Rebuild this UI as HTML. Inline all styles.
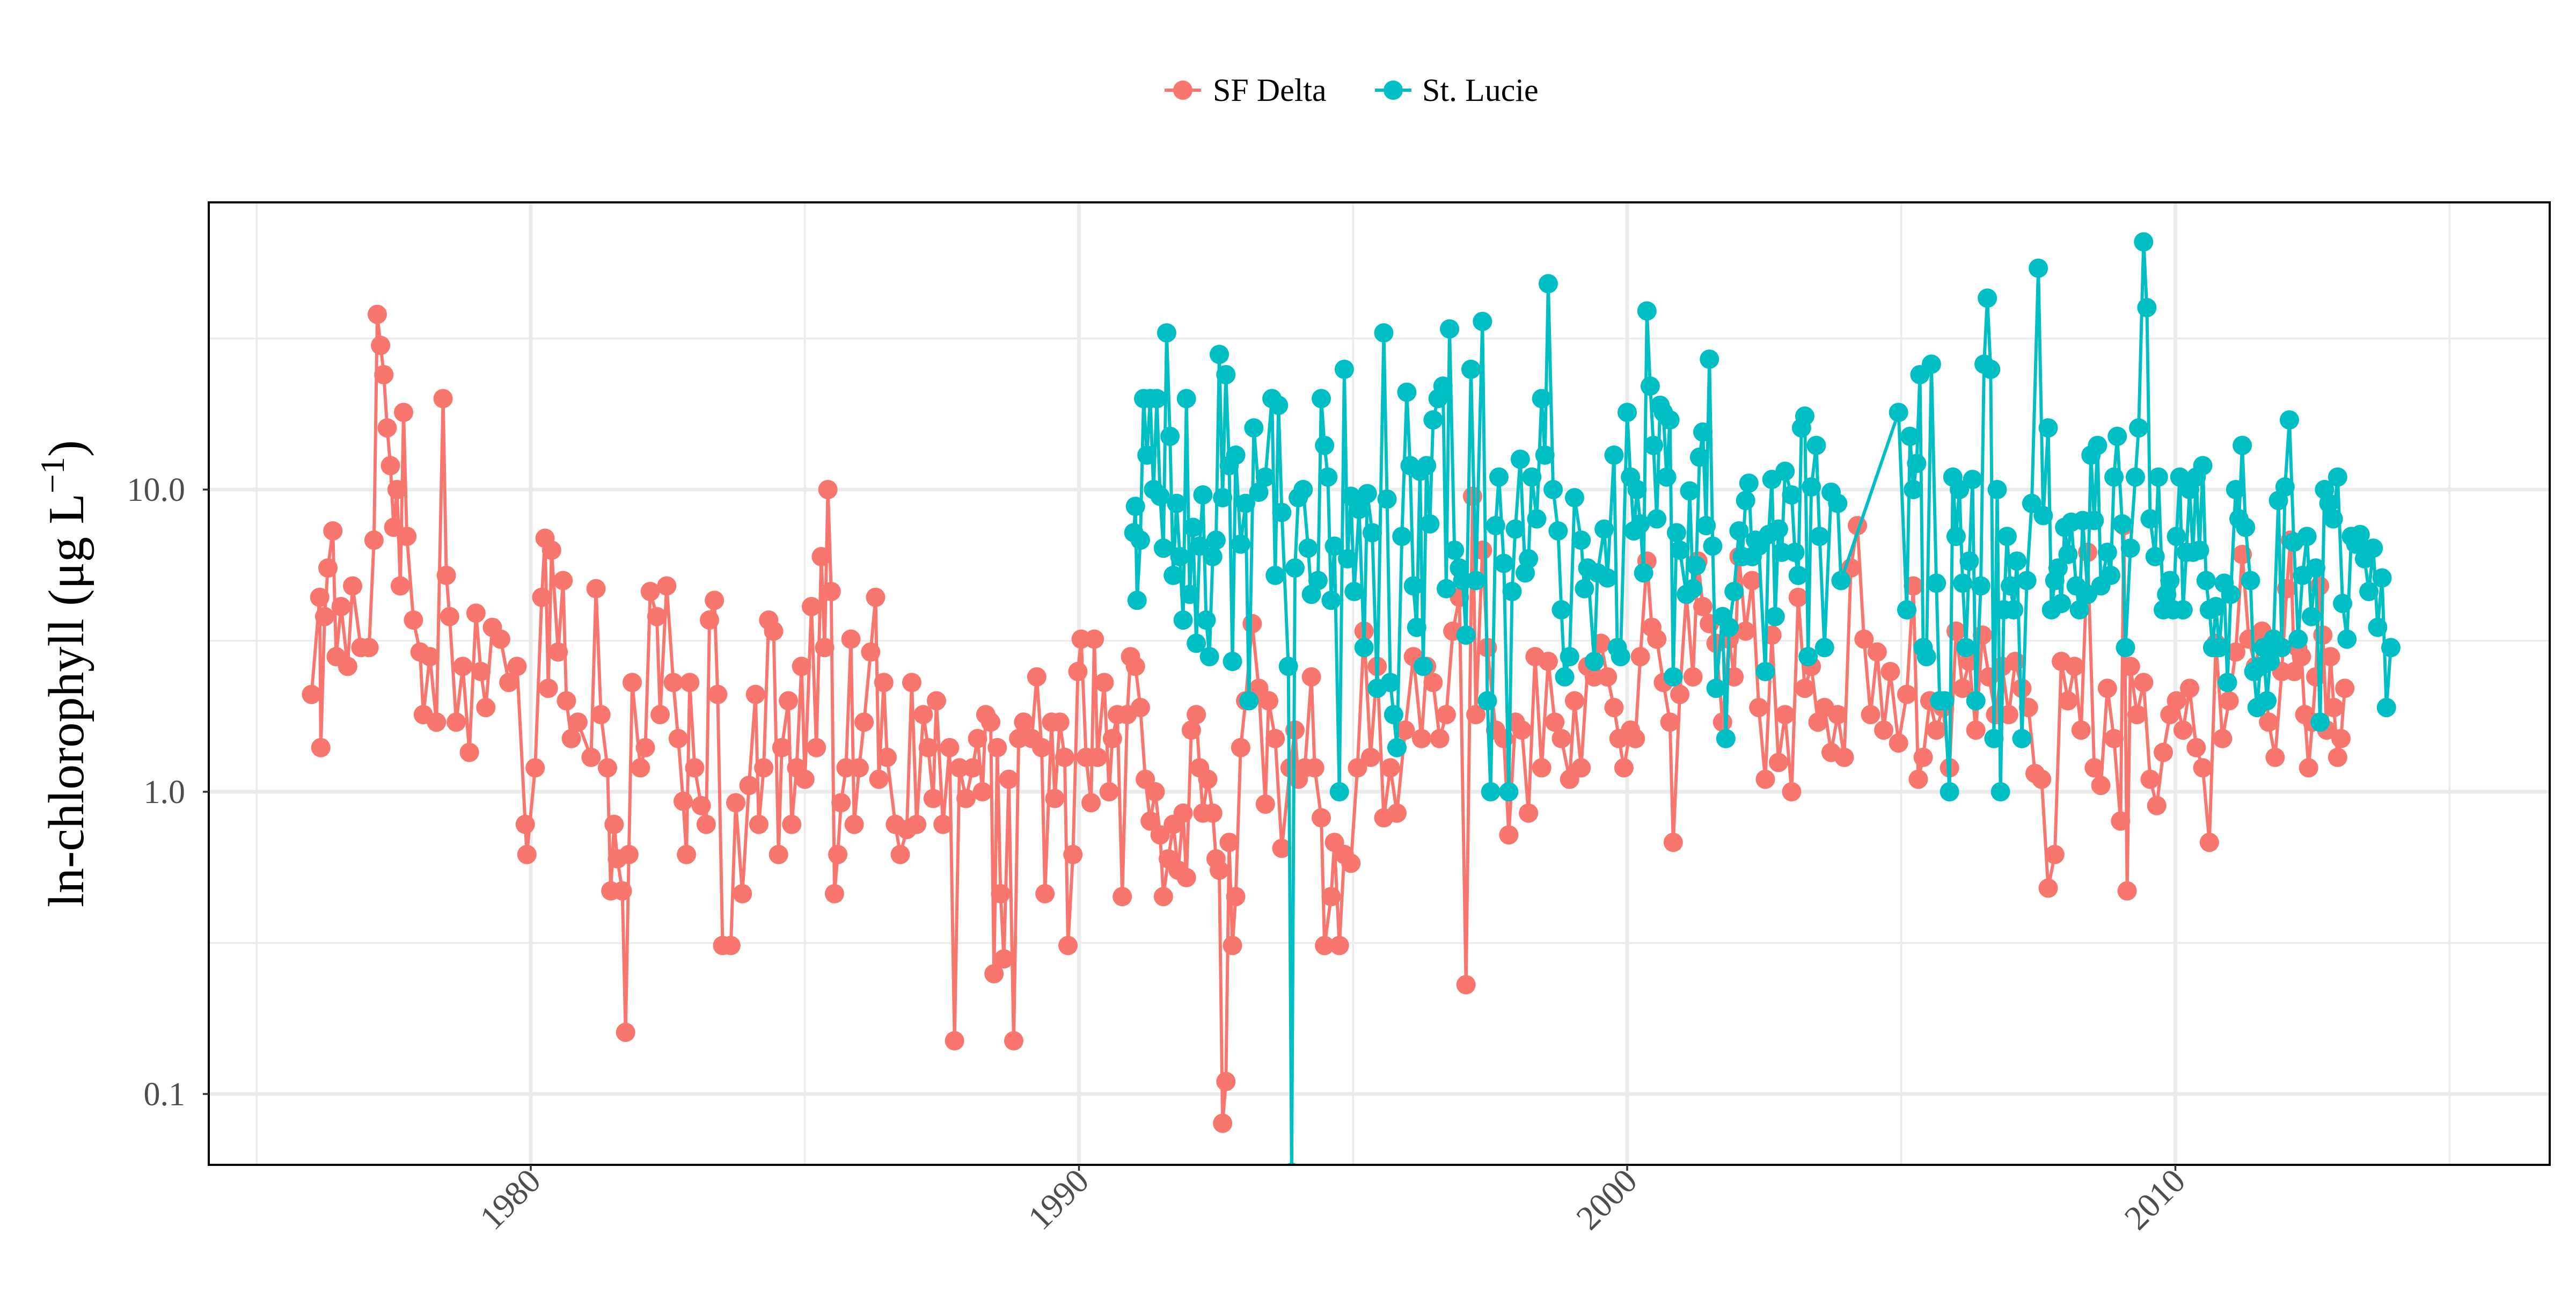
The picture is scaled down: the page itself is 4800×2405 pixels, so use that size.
<!DOCTYPE html>
<html><head><meta charset="utf-8"><style>
html,body{margin:0;padding:0;background:#fff}
svg text{font-family:"Liberation Serif",serif}
</style></head><body>
<svg id="chart" width="4800" height="2400" viewBox="0 0 4800 2400" xmlns="http://www.w3.org/2000/svg">
<rect width="4800" height="2400" fill="#fff"/>
<g id="grid"></g>
<g id="series"></g>
<rect x="389" y="377" width="4362" height="1793" fill="none" stroke="#000" stroke-width="4"/>
<g id="axes"></g>
<text transform="translate(155,1255) rotate(-90)" text-anchor="middle" font-size="94" fill="#000">ln-chlorophyll (μg L<tspan dy="-36" font-size="64">−1</tspan><tspan dy="36">)</tspan></text>
<g>
  <g>
    <line x1="2170" y1="168" x2="2238" y2="168" stroke="#F8766D" stroke-width="6"/>
    <circle cx="2204" cy="168" r="18" fill="#F8766D"/>
    <text x="2260" y="188" font-size="60" fill="#000">SF Delta</text>
  </g>
  <g>
    <line x1="2562" y1="168" x2="2630" y2="168" stroke="#00BFC4" stroke-width="6"/>
    <circle cx="2596" cy="168" r="18" fill="#00BFC4"/>
    <text x="2650" y="188" font-size="60" fill="#000">St. Lucie</text>
  </g>
</g>
</svg>
<script>
const yTicks=[0.1,1,10];
const yTickLabels=["0.1","1.0","10.0"];
const yMinor=[0.0316,0.316,3.16,31.6];
const xTicks=[1980,1990,2000,2010];
const xMinor=[1975,1985,1995,2005,2015];
const sfYears=[1976.00,1976.15,1976.17,1976.24,1976.30,1976.39,1976.45,1976.54,1976.66,1976.75,1976.90,1977.05,1977.14,1977.20,1977.26,1977.32,1977.38,1977.44,1977.50,1977.56,1977.62,1977.68,1977.74,1977.86,1977.98,1978.04,1978.16,1978.28,1978.40,1978.46,1978.52,1978.64,1978.76,1978.88,1979.00,1979.09,1979.18,1979.30,1979.45,1979.60,1979.75,1979.90,1979.93,1980.08,1980.20,1980.26,1980.32,1980.38,1980.50,1980.59,1980.65,1980.74,1980.86,1981.10,1981.19,1981.28,1981.40,1981.46,1981.52,1981.58,1981.67,1981.73,1981.79,1981.85,1982.00,1982.09,1982.18,1982.30,1982.36,1982.48,1982.60,1982.69,1982.78,1982.84,1982.90,1982.99,1983.11,1983.20,1983.26,1983.35,1983.41,1983.50,1983.65,1983.74,1983.86,1983.98,1984.10,1984.16,1984.25,1984.34,1984.43,1984.52,1984.58,1984.70,1984.76,1984.85,1984.94,1985.00,1985.12,1985.21,1985.30,1985.36,1985.42,1985.48,1985.54,1985.60,1985.66,1985.75,1985.84,1985.90,1985.99,1986.08,1986.20,1986.29,1986.35,1986.44,1986.50,1986.65,1986.74,1986.86,1986.95,1987.04,1987.16,1987.25,1987.34,1987.40,1987.52,1987.64,1987.73,1987.82,1987.94,1988.06,1988.15,1988.24,1988.30,1988.39,1988.45,1988.51,1988.57,1988.63,1988.72,1988.81,1988.90,1988.99,1989.14,1989.23,1989.32,1989.38,1989.50,1989.56,1989.65,1989.74,1989.80,1989.89,1989.98,1990.04,1990.13,1990.22,1990.28,1990.34,1990.46,1990.55,1990.61,1990.70,1990.79,1990.88,1990.94,1991.03,1991.12,1991.21,1991.30,1991.39,1991.48,1991.54,1991.63,1991.72,1991.81,1991.90,1991.96,1992.05,1992.14,1992.20,1992.26,1992.35,1992.44,1992.50,1992.56,1992.62,1992.68,1992.74,1992.80,1992.86,1992.95,1993.04,1993.16,1993.28,1993.40,1993.46,1993.58,1993.70,1993.85,1993.94,1994.00,1994.12,1994.24,1994.30,1994.42,1994.48,1994.60,1994.66,1994.75,1994.84,1994.96,1995.08,1995.20,1995.32,1995.44,1995.56,1995.68,1995.80,1995.95,1996.10,1996.25,1996.34,1996.46,1996.58,1996.70,1996.82,1996.94,1997.06,1997.18,1997.24,1997.36,1997.45,1997.60,1997.75,1997.84,1997.96,1998.08,1998.20,1998.32,1998.44,1998.56,1998.68,1998.80,1998.95,1999.04,1999.16,1999.28,1999.40,1999.52,1999.64,1999.76,1999.85,1999.94,2000.06,2000.15,2000.24,2000.36,2000.45,2000.54,2000.66,2000.78,2000.84,2000.96,2001.08,2001.20,2001.29,2001.38,2001.50,2001.62,2001.74,2001.86,2001.95,2002.04,2002.16,2002.28,2002.40,2002.52,2002.64,2002.76,2002.88,2003.00,2003.12,2003.24,2003.36,2003.48,2003.60,2003.72,2003.84,2003.96,2004.08,2004.20,2004.32,2004.44,2004.56,2004.68,2004.80,2004.95,2005.10,2005.22,2005.31,2005.40,2005.52,2005.64,2005.76,2005.88,2006.00,2006.12,2006.24,2006.36,2006.48,2006.60,2006.72,2006.84,2006.96,2007.08,2007.20,2007.32,2007.44,2007.56,2007.68,2007.80,2007.92,2008.04,2008.16,2008.28,2008.40,2008.52,2008.64,2008.76,2008.88,2009.00,2009.06,2009.12,2009.18,2009.30,2009.42,2009.54,2009.66,2009.78,2009.90,2010.02,2010.14,2010.26,2010.38,2010.50,2010.62,2010.74,2010.86,2010.98,2011.10,2011.22,2011.34,2011.46,2011.58,2011.70,2011.82,2011.94,2012.03,2012.10,2012.17,2012.23,2012.30,2012.36,2012.43,2012.50,2012.56,2012.63,2012.69,2012.76,2012.83,2012.89,2012.96,2013.02,2013.09];
const sfValues=[2.1,4.4,1.4,3.8,5.5,7.3,2.8,4.1,2.6,4.8,3.0,3.0,6.8,38,30,24,16,12,7.5,10,4.8,18,7,3.7,2.9,1.8,2.8,1.7,20,5.2,3.8,1.7,2.6,1.35,3.9,2.5,1.9,3.5,3.2,2.3,2.6,0.78,0.62,1.2,4.4,6.9,2.2,6.3,2.9,5.0,2.0,1.5,1.7,1.3,4.7,1.8,1.2,0.47,0.78,0.6,0.47,0.16,0.62,2.3,1.2,1.4,4.6,3.8,1.8,4.8,2.3,1.5,0.93,0.62,2.3,1.2,0.9,0.78,3.7,4.3,2.1,0.31,0.31,0.92,0.46,1.05,2.1,0.78,1.2,3.7,3.4,0.62,1.4,2.0,0.78,1.2,2.6,1.1,4.1,1.4,6.0,3.0,10,4.6,0.46,0.62,0.92,1.2,3.2,0.78,1.2,1.7,2.9,4.4,1.1,2.3,1.3,0.78,0.62,0.75,2.3,0.78,1.8,1.4,0.95,2.0,0.78,1.4,0.15,1.2,0.95,1.2,1.5,1.0,1.8,1.7,0.25,1.4,0.46,0.28,1.1,0.15,1.5,1.7,1.5,2.4,1.4,0.46,1.7,0.95,1.7,1.3,0.31,0.62,2.5,3.2,1.3,0.92,3.2,1.3,2.3,1.0,1.5,1.8,0.45,1.8,2.8,2.6,1.9,1.1,0.8,1.0,0.72,0.45,0.6,0.78,0.55,0.85,0.52,1.6,1.8,1.2,0.85,1.1,0.85,0.6,0.55,0.08,0.11,0.68,0.31,0.45,1.4,2.0,3.6,2.2,0.91,2.0,1.5,0.65,1.2,1.6,1.1,1.2,2.4,1.2,0.82,0.31,0.45,0.68,0.31,0.62,0.58,1.2,3.4,1.3,2.6,0.82,1.2,0.85,1.6,2.8,1.5,2.6,2.3,1.5,1.8,3.4,4.4,0.23,9.5,1.8,6.3,3.0,1.6,1.5,0.72,1.7,1.6,0.85,2.8,1.2,2.7,1.7,1.5,1.1,2.0,1.2,2.6,2.4,3.1,2.4,1.9,1.5,1.2,1.6,1.5,2.8,5.8,3.5,3.2,2.3,1.7,0.68,2.1,4.5,2.4,5.8,4.1,3.6,3.1,1.7,3.2,2.4,6.0,3.4,5.0,1.9,1.1,3.3,1.25,1.8,1.0,4.4,2.2,2.6,1.7,1.9,1.35,1.8,1.3,5.5,7.6,3.2,1.8,2.9,1.6,2.5,1.45,2.1,4.8,1.1,1.3,2.0,1.6,1.9,1.2,3.4,2.2,2.7,1.6,3.3,2.4,1.8,2.6,1.8,2.7,2.2,1.9,1.15,1.1,0.48,0.62,2.7,2.0,2.6,1.6,6.2,1.2,1.05,2.2,1.5,0.8,7.6,0.47,2.6,1.8,2.3,1.1,0.9,1.35,1.8,2.0,1.6,2.2,1.4,1.2,0.68,3.1,1.5,2.0,2.9,6.1,3.2,2.6,3.4,1.7,1.3,2.5,4.7,6.8,2.5,3.0,2.8,1.8,1.2,1.7,2.4,4.8,3.3,1.6,2.8,1.9,1.3,1.5,2.2];
const slYears=[1991.00,1991.03,1991.06,1991.12,1991.18,1991.24,1991.30,1991.36,1991.42,1991.48,1991.54,1991.60,1991.66,1991.72,1991.78,1991.84,1991.90,1991.96,1992.02,1992.08,1992.14,1992.20,1992.26,1992.32,1992.38,1992.44,1992.50,1992.56,1992.62,1992.68,1992.74,1992.80,1992.86,1992.95,1993.04,1993.10,1993.19,1993.28,1993.40,1993.52,1993.58,1993.64,1993.70,1993.82,1993.88,1993.94,1994.00,1994.09,1994.18,1994.24,1994.36,1994.42,1994.48,1994.54,1994.60,1994.66,1994.75,1994.84,1994.90,1994.96,1995.02,1995.11,1995.20,1995.26,1995.35,1995.44,1995.56,1995.62,1995.68,1995.74,1995.80,1995.89,1995.98,1996.04,1996.10,1996.16,1996.22,1996.28,1996.34,1996.40,1996.46,1996.55,1996.64,1996.70,1996.76,1996.85,1996.94,1997.00,1997.06,1997.15,1997.24,1997.36,1997.45,1997.51,1997.60,1997.66,1997.75,1997.84,1997.90,1997.96,1998.05,1998.14,1998.20,1998.26,1998.35,1998.44,1998.50,1998.56,1998.65,1998.74,1998.80,1998.86,1998.95,1999.04,1999.16,1999.22,1999.28,1999.40,1999.46,1999.58,1999.64,1999.76,1999.82,1999.88,2000.00,2000.06,2000.12,2000.18,2000.24,2000.30,2000.36,2000.42,2000.48,2000.54,2000.60,2000.66,2000.72,2000.78,2000.84,2000.90,2000.96,2001.08,2001.14,2001.20,2001.26,2001.32,2001.38,2001.44,2001.50,2001.56,2001.62,2001.74,2001.80,2001.86,2001.95,2002.04,2002.10,2002.16,2002.22,2002.28,2002.34,2002.40,2002.52,2002.58,2002.64,2002.70,2002.76,2002.82,2002.88,2003.00,2003.06,2003.12,2003.18,2003.24,2003.30,2003.36,2003.45,2003.51,2003.60,2003.72,2003.84,2003.90,2004.95,2005.10,2005.16,2005.22,2005.28,2005.34,2005.40,2005.46,2005.55,2005.64,2005.70,2005.79,2005.88,2005.94,2006.00,2006.06,2006.12,2006.18,2006.24,2006.30,2006.36,2006.45,2006.51,2006.57,2006.63,2006.69,2006.75,2006.81,2006.87,2006.93,2006.99,2007.05,2007.11,2007.20,2007.29,2007.38,2007.50,2007.59,2007.68,2007.74,2007.80,2007.86,2007.92,2007.98,2008.04,2008.10,2008.19,2008.25,2008.31,2008.40,2008.46,2008.52,2008.58,2008.64,2008.76,2008.82,2008.88,2008.94,2009.03,2009.09,2009.18,2009.27,2009.33,2009.42,2009.48,2009.54,2009.63,2009.69,2009.78,2009.84,2009.90,2009.96,2010.02,2010.08,2010.14,2010.20,2010.26,2010.32,2010.38,2010.44,2010.50,2010.56,2010.62,2010.68,2010.74,2010.80,2010.89,2010.95,2011.01,2011.10,2011.16,2011.22,2011.28,2011.37,2011.43,2011.49,2011.55,2011.61,2011.67,2011.73,2011.79,2011.88,2011.94,2012.00,2012.08,2012.16,2012.24,2012.32,2012.40,2012.48,2012.56,2012.64,2012.72,2012.80,2012.88,2012.96,2013.05,2013.13,2013.21,2013.29,2013.37,2013.45,2013.53,2013.61,2013.69,2013.77,2013.85,2013.93,2014.01];
const slValues=[7.2,8.8,4.3,6.8,20,13,20,10,20,9.5,6.4,33,15,5.2,9,6,3.7,20,4.5,7.5,3.1,6.5,9.6,3.7,2.8,6.0,6.8,28,9.4,24,12,2.7,13,6.6,9.0,2.0,16,9.8,11,20,5.2,19,8.4,2.6,0.055,5.5,9.4,10,6.4,4.5,5.0,20,14,11,4.3,6.5,1.0,25,5.9,9.5,4.6,8.6,3.0,9.7,7.2,2.2,33,9.3,2.3,1.8,1.4,7.0,21,12,4.8,3.5,11.5,2.6,12,7.7,17,20,22,4.7,34,6.3,5.5,5.0,3.3,25,5.0,36,2.0,1.0,7.6,11,5.7,1.0,4.6,7.4,12.6,5.3,5.9,11,8.0,20,13,48,10,7.3,4.0,2.4,2.8,9.4,6.8,4.7,5.5,2.7,5.3,7.4,5.1,13,3.0,2.8,18,11,7.3,10,7.7,5.3,39,22,14,8.0,19,18,11,17,2.4,7.2,6.3,4.5,9.9,4.7,5.6,12.8,15.5,7.6,27,6.5,2.2,3.8,1.5,3.5,4.6,7.3,6.0,9.2,10.5,6.0,6.8,6.5,2.5,7.1,10.8,3.8,7.4,6.2,11.5,9.6,6.2,5.2,16,17.5,2.8,10.2,14,7.0,3.0,9.8,9.0,5.0,18,4.0,15,10,12.2,24,3.0,2.8,26,4.9,2.0,2.0,1.0,11,7,10,4.9,3.0,5.8,10.8,2.0,4.8,26,43,25,1.5,10,1.0,4.0,7.0,4.8,4.0,5.8,1.5,5.0,9.0,54,8.2,16,4.0,5.0,5.5,4.2,7.5,6.1,7.8,4.8,4.0,7.9,4.5,13,7.9,14,4.8,6.2,5.2,11,15,7.7,3.0,6.4,11,16,66,40,8.0,6.0,11,4.0,4.5,5.0,4.0,7.0,11,4.0,6.2,10,6.2,11,6.3,12,5.0,4.0,3.0,4.1,3.0,4.9,2.3,4.5,10,8.0,14,7.5,5.0,2.5,1.9,2.6,3.0,2.0,2.7,3.2,9.2,3.0,10.2,17,6.7,3.2,5.2,7.0,3.8,5.5,1.7,10,9.0,8.0,11,4.2,3.2,7.0,6.6,7.1,5.9,4.6,6.4,3.5,5.1,1.9,3.0];

const NS="http://www.w3.org/2000/svg";
const PX0=389,PX1=4751,PY0=377,PY1=2170;
function xScale(yr){return 989+(yr-1980)*102.15;}
function yScale(v){return 1475-563*Math.log10(v);}
function mk(tag,attrs,parent){const e=document.createElementNS(NS,tag);for(const k in attrs)e.setAttribute(k,attrs[k]);parent.appendChild(e);return e;}
const grid=document.getElementById('grid');
mk('rect',{x:PX0,y:PY0,width:PX1-PX0,height:PY1-PY0,fill:'#fff'},grid);
yMinor.forEach(v=>{const y=yScale(v);if(y<PY0||y>PY1)return;
 const l=mk('line',{x1:PX0,x2:PX1,y1:y,y2:y,stroke:'#ebebeb','stroke-width':3.5},grid);
 
 });
xMinor.forEach(t=>{const x=xScale(t);if(x<PX0||x>PX1)return;
 const l=mk('line',{x1:x,x2:x,y1:PY0,y2:PY1,stroke:'#ebebeb','stroke-width':3.5},grid);
 
 });
yTicks.forEach(v=>{const y=yScale(v);
 const l=mk('line',{x1:PX0,x2:PX1,y1:y,y2:y,stroke:'#ebebeb','stroke-width':7},grid);
 
 });
xTicks.forEach(t=>{const x=xScale(t);
 const l=mk('line',{x1:x,x2:x,y1:PY0,y2:PY1,stroke:'#ebebeb','stroke-width':7},grid);
 
 });
const axes=document.getElementById('axes');
yTicks.forEach((v,i)=>{const y=yScale(v);
 const tk=mk('line',{x1:PX0-11,x2:PX0,y1:y,y2:y,stroke:'#333','stroke-width':3.5},axes);
 
 
 const t=mk('text',{x:PX0-44,y:y+21,'text-anchor':'end','font-size':62,fill:'#4d4d4d'},axes);
 t.textContent=yTickLabels[i];
 
 });
xTicks.forEach(tv=>{const x=xScale(tv);
 const tk=mk('line',{x1:x,x2:x,y1:PY1,y2:PY1+11,stroke:'#333','stroke-width':3.5},axes);
 
 
 const t=mk('text',{x:0,y:0,'text-anchor':'end','font-size':64,fill:'#4d4d4d',transform:`translate(${x+22},${PY1+34}) rotate(-45)`},axes);
 t.textContent=String(tv);
 
 });
const sl=document.getElementById('series');
const clip=mk('clipPath',{id:'pc'},sl);mk('rect',{x:PX0,y:PY0,width:PX1-PX0,height:PY1-PY0},clip);
function drawSeries(years,vals,color,name){
 const n=Math.min(years.length,vals.length);
 const g=mk('g',{'clip-path':'url(#pc)'},sl);
 
 
 const arr=[];for(let i=0;i<n;i++)arr.push(xScale(years[i]).toFixed(1)+','+yScale(vals[i]).toFixed(1));
 const pl=mk('polyline',{points:arr.join(' '),fill:'none',stroke:color,'stroke-width':6,'stroke-linejoin':'round'},g);
 
 
 for(let i=0;i<n;i++){const c=mk('circle',{cx:xScale(years[i]),cy:yScale(vals[i]),r:18,fill:color},g);
  
  }
}
drawSeries(sfYears,sfValues,'#F8766D','sf-delta');
drawSeries(slYears,slValues,'#00BFC4','st-lucie');
</script>
</body></html>
